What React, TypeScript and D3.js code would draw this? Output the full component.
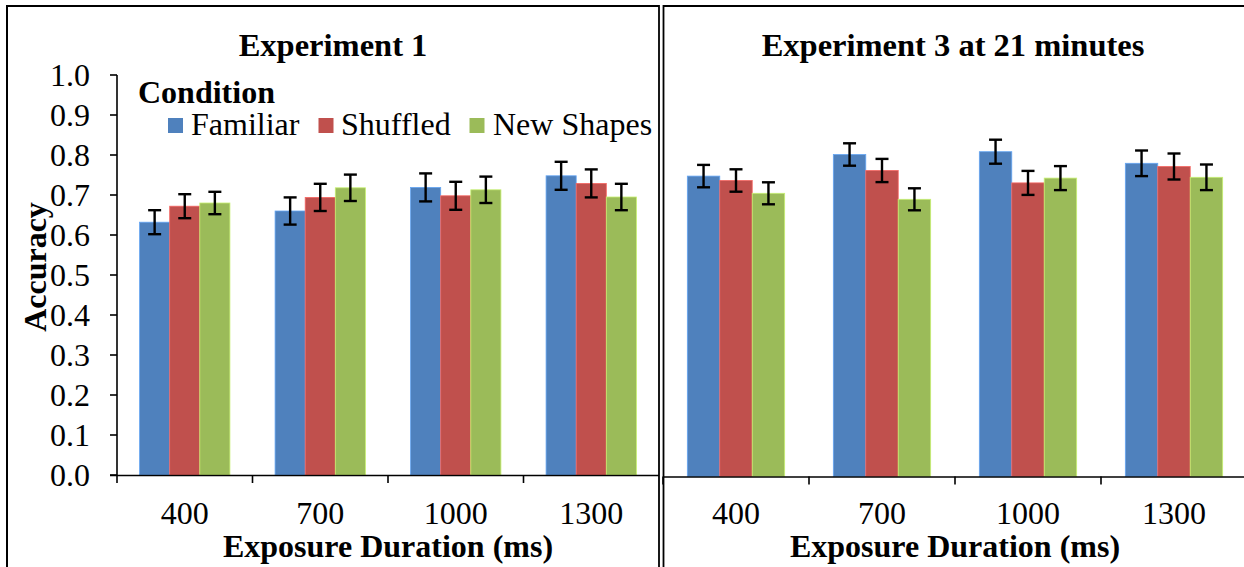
import React from "react";
import * as d3 from "d3";

// Exposure durations (ms) on the x axis
const categories = ["400", "700", "1000", "1300"];
const conditions = ["Familiar", "Shuffled", "New Shapes"];
const conditionColors = ["#4F81BD", "#C0504D", "#9BBB59"];

// Experiment 1: mean accuracy per condition
const exp1Familiar = [0.632, 0.66, 0.719, 0.748];
const exp1Shuffled = [0.672, 0.694, 0.698, 0.729];
const exp1NewShapes = [0.68, 0.718, 0.713, 0.695];
// Experiment 1: error bar half-widths
const exp1FamiliarErr = [0.03, 0.034, 0.035, 0.035];
const exp1ShuffledErr = [0.03, 0.034, 0.035, 0.035];
const exp1NewShapesErr = [0.028, 0.033, 0.033, 0.033];

// Experiment 3 at 21 minutes: mean accuracy per condition
const exp3Familiar = [0.751, 0.805, 0.812, 0.783];
const exp3Shuffled = [0.74, 0.765, 0.734, 0.775];
const exp3NewShapes = [0.708, 0.693, 0.746, 0.748];
// Experiment 3: error bar half-widths
const exp3FamiliarErr = [0.028, 0.028, 0.03, 0.032];
const exp3ShuffledErr = [0.028, 0.029, 0.03, 0.0325];
const exp3NewShapesErr = [0.0275, 0.0275, 0.03, 0.032];

const yTicks = [0, 0.1, 0.2, 0.3, 0.4, 0.5, 0.6, 0.7, 0.8, 0.9, 1.0];

const FONT = "'Liberation Serif', 'Times New Roman', serif";
const FS = 32;

type PanelProps = {
  left: number;
  right: number;
  top: number;
  bottom: number;
  title: string;
  titleX: number;
  values: number[][];
  errors: number[][];
  showYAxis: boolean;
};

function Panel({ left, right, top, bottom, title, titleX, values, errors, showYAxis }: PanelProps) {
  const x = d3.scaleBand<string>().domain(categories).range([left, right]).paddingInner(0).paddingOuter(0);
  const bw = x.bandwidth();
  // clustered bars: three bars with a 150% gap per category
  const barW = bw / 4.5;
  const inner = d3
    .scaleBand<string>()
    .domain(conditions)
    .range([0.75 * barW, 3.75 * barW]);
  const y = d3.scaleLinear().domain([0, 1]).range([bottom, top]);
  const fmt = d3.format(".1f");

  return (
    <g>
      <text
        x={titleX}
        y={56}
        textAnchor="middle"
        fontFamily={FONT}
        fontWeight="bold"
        fontSize={32.5}
      >
        {title}
      </text>

      {categories.map((c, ci) => (
        <g key={c}>
          {conditions.map((s, si) => {
            const v = values[si][ci];
            const bx = (x(c) as number) + (inner(s) as number);
            const col = conditionColors[si];
            return (
              <rect
                key={s}
                x={bx}
                y={y(v)}
                width={inner.bandwidth()}
                height={y(0) - y(v)}
                fill={col}
                stroke={d3.color(col)!.brighter(0.7).formatHex()}
                strokeWidth={0.8}
              />
            );
          })}
        </g>
      ))}

      {categories.map((c, ci) => (
        <g key={"e" + c}>
          {conditions.map((s, si) => {
            const v = values[si][ci];
            const e = errors[si][ci];
            const cx = (x(c) as number) + (inner(s) as number) + inner.bandwidth() / 2;
            const y1 = y(v + e);
            const y2 = y(v - e);
            return (
              <g key={s} stroke="#000" strokeWidth={2.4}>
                <line x1={cx} x2={cx} y1={y1} y2={y2} />
                <line x1={cx - 6.5} x2={cx + 6.5} y1={y1} y2={y1} />
                <line x1={cx - 6.5} x2={cx + 6.5} y1={y2} y2={y2} />
              </g>
            );
          })}
        </g>
      ))}

      {/* x axis */}
      <line
        x1={showYAxis ? left - 7 : left}
        x2={right}
        y1={bottom + 0.5}
        y2={bottom + 0.5}
        stroke="#000"
        strokeWidth={1.6}
      />
      {categories.map((c) => (
        <line
          key={"t" + c}
          x1={x(c) as number}
          x2={x(c) as number}
          y1={bottom}
          y2={bottom + 8}
          stroke="#000"
          strokeWidth={1.6}
        />
      ))}
      {categories.map((c) => (
        <text
          key={"l" + c}
          x={(x(c) as number) + bw / 2}
          y={524}
          textAnchor="middle"
          fontFamily={FONT}
          fontSize={FS}
        >
          {c}
        </text>
      ))}
      <text
        x={(left + right) / 2}
        y={557}
        textAnchor="middle"
        fontFamily={FONT}
        fontWeight="bold"
        fontSize={FS}
      >
        Exposure Duration (ms)
      </text>

      {showYAxis && (
        <g>
          <line x1={left} x2={left} y1={top} y2={bottom} stroke="#000" strokeWidth={1.6} />
          {yTicks.map((t) => (
            <g key={t}>
              <line x1={left - 7} x2={left} y1={y(t)} y2={y(t)} stroke="#000" strokeWidth={1.6} />
              <text
                x={90}
                y={y(t)}
                dy="0.33em"
                textAnchor="end"
                fontFamily={FONT}
                fontSize={FS}
              >
                {fmt(t)}
              </text>
            </g>
          ))}
          <text
            transform={`translate(46, ${(top + bottom) / 2 - 8}) rotate(-90)`}
            textAnchor="middle"
            fontFamily={FONT}
            fontWeight="bold"
            fontSize={FS}
          >
            Accuracy
          </text>
        </g>
      )}
    </g>
  );
}

export default function App() {
  const W = 1244;
  const H = 567;
  const legendItems = [
    { sq: 168, tx: 191 },
    { sq: 318.5, tx: 341 },
    { sq: 469.5, tx: 493 },
  ];
  return (
    <svg
      width={W}
      height={H}
      style={{ position: "absolute", left: 0, top: 0, background: "#fff" }}
    >
      <rect x={0} y={0} width={W} height={H} fill="#fff" />

      {/* panel frames */}
      <g stroke="#000" fill="none">
        <line x1={7} x2={659} y1={6} y2={6} strokeWidth={2} />
        <line x1={7} x2={7} y1={5} y2={H} strokeWidth={2} />
        <line x1={659} x2={659} y1={5} y2={H} strokeWidth={1.8} />
        <line x1={663} x2={W} y1={6} y2={6} strokeWidth={2} />
        <line x1={663.5} x2={663.5} y1={5} y2={H} strokeWidth={1.8} />
      </g>

      <Panel
        left={117}
        right={659}
        top={75}
        bottom={475}
        title="Experiment 1"
        titleX={333}
        values={[exp1Familiar, exp1Shuffled, exp1NewShapes]}
        errors={[exp1FamiliarErr, exp1ShuffledErr, exp1NewShapesErr]}
        showYAxis={true}
      />
      <Panel
        left={663}
        right={1247}
        top={76.5}
        bottom={476.5}
        title="Experiment 3 at 21 minutes"
        titleX={953}
        values={[exp3Familiar, exp3Shuffled, exp3NewShapes]}
        errors={[exp3FamiliarErr, exp3ShuffledErr, exp3NewShapesErr]}
        showYAxis={false}
      />

      {/* legend */}
      <text x={138} y={103} fontFamily={FONT} fontWeight="bold" fontSize={FS}>
        Condition
      </text>
      {conditions.map((c, i) => (
        <g key={c}>
          <rect x={legendItems[i].sq} y={118} width={15} height={15} fill={conditionColors[i]} />
          <text x={legendItems[i].tx} y={135} fontFamily={FONT} fontSize={FS}>
            {c}
          </text>
        </g>
      ))}
    </svg>
  );
}
